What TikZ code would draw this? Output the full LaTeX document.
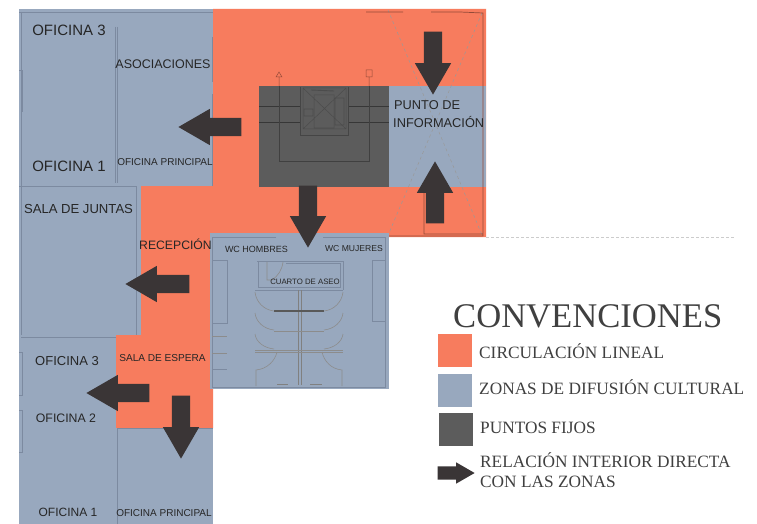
\documentclass[tikz,border=0pt]{standalone}
\usepackage{fontspec}
\setmainfont{Liberation Serif}
\newfontfamily\planofont{Liberation Sans}
\usepackage{xcolor}
\usetikzlibrary{shapes,arrows}
\definecolor{naranja}{HTML}{F77C5E}
\definecolor{azul}{HTML}{98A8BE}
\definecolor{fijo}{HTML}{5C5C5C}
\definecolor{flechac}{HTML}{3A3536}
\definecolor{muro}{HTML}{7C8AA0}

\begin{document}
\begin{tikzpicture}[
    x=1pt, y=-1pt,
    etiqueta/.style={inner sep=0pt, text=black!85, font=\planofont\fontsize{#1}{#1}\selectfont, text height=#1*0.72pt, text depth=0pt},
    leyenda/.style={inner sep=0pt, anchor=west, text=black!75, font=\fontsize{#1}{#1}\selectfont, text height=#1*0.66pt, text depth=0pt},
    flecha/.style={single arrow, anchor=tip, fill=flechac, draw=none, inner xsep=0pt, inner ysep=9pt, single arrow tip angle=60, single arrow head extend=9pt, minimum height=#1},
    muros/.style={draw=muro, line width=0.7pt},
    negro/.style={draw=black!45, line width=0.6pt},
    cuadro/.style={minimum width=34pt, minimum height=33pt, inner sep=0pt, draw=none}
]
\useasboundingbox (0,0) rectangle (757,524);
\fill[white] (0,0) rectangle (757,524);

% zonas
\fill[naranja] (213,9) -- (486,9) -- (486,237) -- (389,237) -- (389,233) -- (213,233) -- (213,428) -- (116,428) -- (116,335) -- (141,335) -- (141,186) -- (213,186) -- cycle;
\fill[azul] (19,9) rectangle (213,186);
\fill[azul] (19,186) rectangle (141,335);
\fill[azul] (19,335) rectangle (116,524);
\fill[azul] (116,428) rectangle (213,524);
\fill[azul] (210,233) rectangle (389,389);
\fill[azul] (389,86) rectangle (486,187);
\fill[fijo] (259,86) rectangle (389,187);

% muros de oficinas
\draw[muros] (19,12) -- (213,12);
\draw[muros] (21,12) -- (21,186) (19,186) -- (136,186) -- (136,335) (21,186) -- (21,335);
\draw[muros] (115,27) -- (115,183) (117,27) -- (117,183);
\draw[muros] (19,70) -- (22,70) -- (22,112);
\draw[muros] (212,37) -- (212,82) (212,94) -- (212,186);
\draw[muros] (21,337) -- (116,337) (117,428) -- (117,524) (117,428) -- (213,428);
\draw[muros] (19,352) -- (22,352) -- (22,395) -- (19,395) (19,410) -- (22,410) -- (22,452) -- (19,452);

% muros de la derecha
\draw[draw=black!40, line width=0.5pt, dashed] (388,10) -- (482,235) (482,13) -- (389,233);
\draw[draw=black!40!naranja, line width=0.7pt] (366,12) -- (403,12) (431,12) -- (460,12) (460,12) -- (483,13) -- (483,236) -- (389,236) (424,192) -- (424,234) -- (483,234);
\draw[draw=black!20, densely dashed, line width=0.5pt] (486,237) -- (735,237);

% punto fijo
\draw[draw=black!40!fijo, line width=0.7pt] (259,106) -- (300,106) (348,106) -- (389,106) (259,122) -- (300,122) (348,122) -- (389,122);
\draw[draw=black!25!fijo, line width=0.8pt] (300,87) -- (300,135) -- (348,135) -- (348,87);
\draw[draw=black!70, line width=0.5pt] (303,88) rectangle (346,129) (303,88) -- (346,129) (346,88) -- (303,129) (314,95) rectangle (334,128);
\draw[draw=black!70, line width=0.9pt] (311,90) -- (334,91) (304,109) rectangle (313,116) (335,98) rectangle (344,125);
\draw[draw=black!30!fijo, line width=0.6pt] (279,86) -- (279,161) -- (369,161) -- (369,86);
\draw[draw=black!40!naranja, line width=0.5pt] (279,86) -- (279,77) (369,86) -- (369,77) (276,77) -- (282,77) -- (279,72) -- cycle (366,70) rectangle (372,77);

% cuartos de bano
\draw[muros] (276,237) -- (212,237) -- (212,387) -- (385,387) -- (385,237) -- (323,237);
\draw[muros] (212,260) -- (227,260) -- (227,323) -- (212,323) (385,260) -- (372,260) -- (372,321) -- (385,321);
\draw[negro] (212,336) -- (227,336) (212,353) -- (227,353);
\draw[muros] (212,369) -- (227,369);
\draw[muros] (255,290) -- (343,290) (257,261) -- (343,261) -- (343,290) (286,263) -- (340,263) -- (340,287) -- (258,287) -- (258,261);
\draw[negro] (267,262) -- (267,280) -- (272,280) .. controls (278,276) and (282,270) .. (283,262);
\draw[draw=black!50, line width=0.9pt] (298,290) -- (298,385) (301,290) -- (301,385);
\draw[draw=black!65, line width=1.2pt] (274,311) -- (324,311);
\draw[negro] (274,331) -- (324,331) (255,350) -- (343,350) (255,352) -- (343,352);
\draw[negro] (255,292) .. controls (256,302) and (264,310) .. (274,311);
\draw[negro] (255,313) .. controls (256,322) and (264,329) .. (274,330);
\draw[negro] (255,334) .. controls (256,342) and (264,348) .. (274,349);
\draw[negro] (343,292) .. controls (342,302) and (334,310) .. (324,311);
\draw[negro] (343,313) .. controls (342,322) and (334,329) .. (324,330);
\draw[negro] (343,334) .. controls (342,342) and (334,348) .. (324,349);
\draw[negro] (277,352) .. controls (275,361) and (267,369) .. (256,370) -- (256,386);
\draw[negro] (322,352) .. controls (324,361) and (331,369) .. (342,370) -- (342,386);
\draw[draw=black!50, line width=1.1pt] (277,384.5) -- (288,384.5) (310,384.5) -- (322,384.5);

% flechas
\node (flecha asociaciones) [flecha=63pt, rotate=180] at (178,127) {};
\node (flecha punto arriba) [flecha=63pt, rotate=-90] at (433,95) {};
\node (flecha punto abajo) [flecha=62pt, rotate=90] at (435,161) {};
\node (flecha aseo) [flecha=62pt, rotate=-90] at (308,248) {};
\node (flecha juntas) [flecha=64pt, rotate=180] at (125,284) {};
\node (flecha oficinas) [flecha=63pt, rotate=180] at (86,393) {};
\node (flecha principal) [flecha=63pt, rotate=-90] at (181,459) {};

% textos del plano
\node (oficina tres) [etiqueta=15] at (69,30) {OFICINA 3};
\node (oficina uno) [etiqueta=15] at (69,166) {OFICINA 1};
\node (asociaciones) [etiqueta=12.5] at (163,64) {ASOCIACIONES};
\node (principal) [etiqueta=10] at (165,162) {OFICINA PRINCIPAL};
\node (juntas) [etiqueta=13.1] at (78.5,209) {SALA DE JUNTAS};
\node (recepcion) [etiqueta=12.2] at (175.5,245) {RECEPCIÓN};
\node (hombres) [etiqueta=9] at (256.5,249) {WC HOMBRES};
\node (mujeres) [etiqueta=8.6] at (354,248) {WC MUJERES};
\node (aseo) [etiqueta=7.8] at (305,282) {CUARTO DE ASEO};
\node (punto) [etiqueta=12.8, anchor=west] at (394,105) {PUNTO DE};
\node (informacion) [etiqueta=12.8, anchor=west] at (393,123) {INFORMACIÓN};
\node (oficina tres b) [etiqueta=13] at (67,361) {OFICINA 3};
\node (oficina dos) [etiqueta=12.3] at (66,418) {OFICINA 2};
\node (oficina uno b) [etiqueta=12] at (68,512) {OFICINA 1};
\node (espera) [etiqueta=10.1] at (162.5,358) {SALA DE ESPERA};
\node (principal b) [etiqueta=10] at (164,513) {OFICINA PRINCIPAL};

% convenciones
\node (titulo) [leyenda=34.6] at (453,316) {CONVENCIONES};
\node (cuadro circulacion) [cuadro, fill=naranja] at (455,350.5) {};
\node (cuadro zonas) [cuadro, fill=azul] at (455,390.5) {};
\node (cuadro fijos) [cuadro, fill=fijo] at (455.5,429.5) {};
\node (circulacion) [leyenda=17.3] at (479,353) {CIRCULACIÓN LINEAL};
\node (zonas) [leyenda=17.3] at (479,389) {ZONAS DE DIFUSIÓN CULTURAL};
\node (fijos) [leyenda=17.3] at (480,428) {PUNTOS FIJOS};
\node (relacion) [leyenda=17.3] at (480,462) {RELACIÓN INTERIOR DIRECTA};
\node (con zonas) [leyenda=17.3] at (480,482) {CON LAS ZONAS};
\node (flecha leyenda) [flecha=37pt, inner ysep=6.5pt, single arrow head extend=4pt] at (475,473) {};
\end{tikzpicture}
\end{document}
